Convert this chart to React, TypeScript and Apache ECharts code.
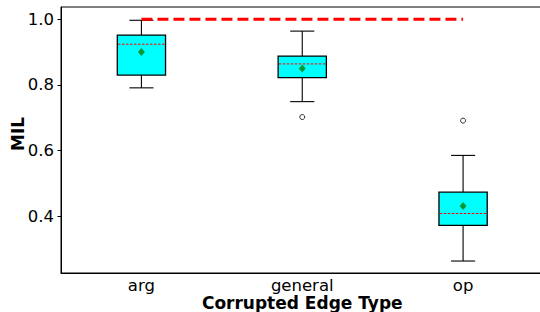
import React, { useEffect, useRef } from "react";
import * as echarts from "echarts";

const categories = ["arg", "general", "op"];
const whiskerLow = [0.791, 0.749, 0.263];
const q1 = [0.83, 0.822, 0.372];
const medians = [0.924, 0.864, 0.408];
const q3 = [0.952, 0.888, 0.473];
const whiskerHigh = [0.997, 0.964, 0.585];
const means = [0.9, 0.85, 0.431];
const outliers: [number, number][] = [
  [1, 0.702],
  [2, 0.691],
];
const referenceValue = 1.0;
const yTicks = [0.4, 0.6, 0.8, 1.0];

const FONT = "DejaVu Sans";

export default function App() {
  const ref = useRef<HTMLDivElement>(null);
  useEffect(() => {
    if (!ref.current) return;
    const chart = echarts.init(ref.current, undefined, { renderer: "svg" });
    const boxData = categories.map((_, i) => [
      i,
      whiskerLow[i],
      q1[i],
      medians[i],
      q3[i],
      whiskerHigh[i],
    ]);
    chart.setOption({
      animation: false,
      grid: {
        left: 61,
        right: -3.5,
        top: 7,
        bottom: 39,
        show: true,
        borderColor: "#000",
        borderWidth: 1,
        backgroundColor: "transparent",
        containLabel: false,
        outerBoundsMode: "none",
      },
      xAxis: {
        type: "category",
        data: categories,
        boundaryGap: true,
        name: "Corrupted Edge Type",
        nameLocation: "middle",
        nameGap: 21,
        nameMoveOverlap: false,
        nameTextStyle: { fontFamily: FONT, fontSize: 17, fontWeight: "bold", color: "#000" },
        axisLine: { lineStyle: { color: "#000", width: 1 } },
        axisTick: { alignWithLabel: true, length: 3.5, lineStyle: { color: "#000" } },
        axisLabel: { fontFamily: FONT, fontSize: 16.5, color: "#000", margin: 4 },
        splitLine: { show: false },
      },
      yAxis: {
        type: "value",
        min: 0.2265,
        max: 1.0375,
        name: "MIL",
        nameLocation: "middle",
        nameGap: 34.5,
        nameMoveOverlap: false,
        nameTextStyle: {
          fontFamily: FONT,
          fontSize: 17,
          fontWeight: "bold",
          color: "#000",
          padding: [0, 0, 0, 12],
        },
        axisLine: { show: true, lineStyle: { color: "#000", width: 1 } },
        axisTick: { show: true, length: 3.5, lineStyle: { color: "#000" }, customValues: yTicks },
        axisLabel: {
          fontFamily: FONT,
          fontSize: 16.5,
          color: "#000",
          margin: 7,
          customValues: yTicks,
          formatter: (v: number) => v.toFixed(1),
        },
        splitLine: { show: false },
      },
      series: [
        {
          type: "custom",
          data: boxData,
          z: 2,
          renderItem: (params: any, api: any) => {
            const idx = api.value(0);
            const lo = api.coord([idx, api.value(1)]);
            const b1 = api.coord([idx, api.value(2)]);
            const md = api.coord([idx, api.value(3)]);
            const b3 = api.coord([idx, api.value(4)]);
            const hi = api.coord([idx, api.value(5)]);
            const w = api.size([1, 0])[0] * 0.3;
            const cx = lo[0];
            const lineStyle = { stroke: "#000", lineWidth: 1.1 };
            return {
              type: "group",
              children: [
                { type: "line", shape: { x1: cx, y1: lo[1], x2: cx, y2: b1[1] }, style: lineStyle },
                { type: "line", shape: { x1: cx, y1: b3[1], x2: cx, y2: hi[1] }, style: lineStyle },
                { type: "line", shape: { x1: cx - w / 4, y1: lo[1], x2: cx + w / 4, y2: lo[1] }, style: lineStyle },
                { type: "line", shape: { x1: cx - w / 4, y1: hi[1], x2: cx + w / 4, y2: hi[1] }, style: lineStyle },
                {
                  type: "rect",
                  shape: { x: cx - w / 2, y: b3[1], width: w, height: b1[1] - b3[1] },
                  style: { fill: "#00ffff", stroke: "#000", lineWidth: 1.3 },
                },
                {
                  type: "line",
                  shape: { x1: cx - w / 2 + 0.7, y1: md[1], x2: cx + w / 2 - 0.7, y2: md[1] },
                  style: { stroke: "#ff0000", lineWidth: 1, lineDash: [2.5, 1.5] },
                },
              ],
            };
          },
        },
        {
          type: "scatter",
          data: means.map((m, i) => [i, m]),
          symbol: "diamond",
          symbolSize: [7, 8],
          itemStyle: { color: "#008000" },
          z: 3,
        },
        {
          type: "scatter",
          data: outliers,
          symbol: "circle",
          symbolSize: 5,
          itemStyle: { color: "#fff", borderColor: "#000", borderWidth: 1 },
          z: 3,
        },
        {
          type: "line",
          data: [
            [0, referenceValue],
            [categories.length - 1, referenceValue],
          ],
          symbol: "none",
          lineStyle: { color: "#ff0000", width: 3, type: [11, 5] },
          z: 4,
        },
      ],
    });
    return () => chart.dispose();
  }, []);
  return <div ref={ref} style={{ width: 540, height: 312, position: "absolute", left: 0, top: 0 }} />;
}
